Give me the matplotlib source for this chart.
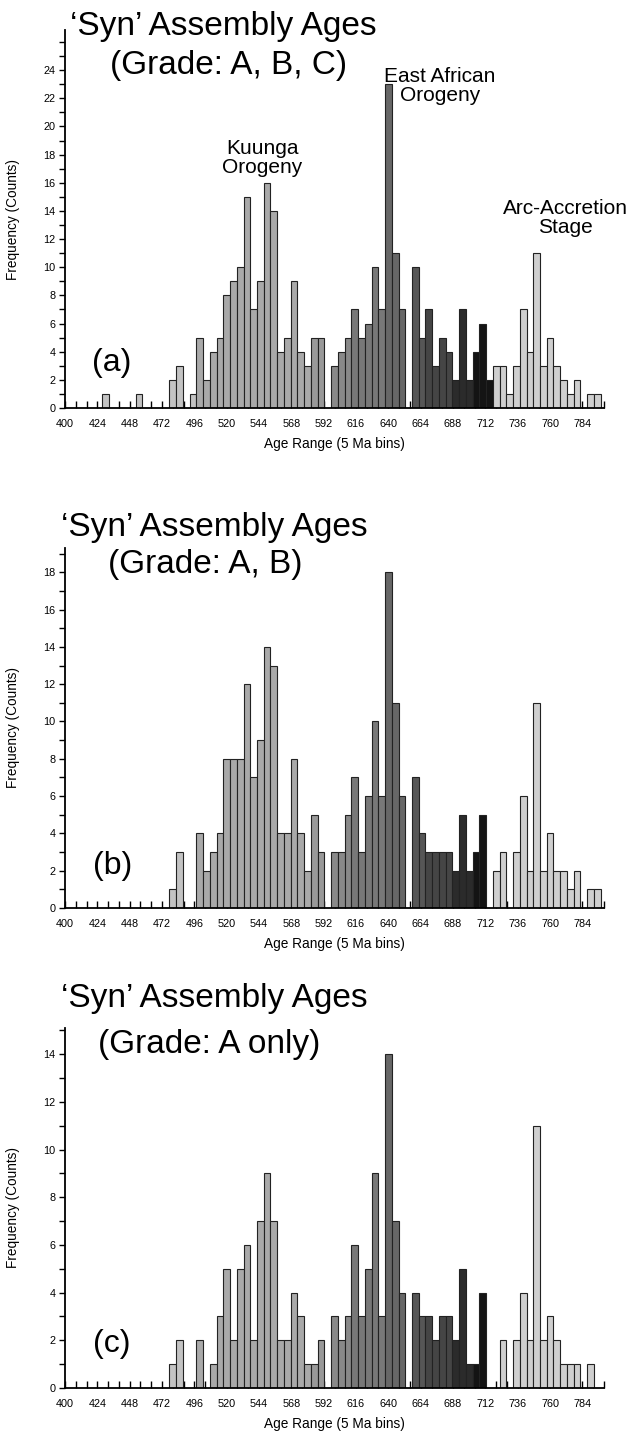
import matplotlib
matplotlib.use("Agg")
import matplotlib.pyplot as plt

plt.rcParams["font.family"] = ["Liberation Sans", "DejaVu Sans"]

W, H = 633, 1441  # output size in px (dpi 100)

# 5 Ma bin centres (Ma) and counts per panel
bin_centers = list(range(430, 800, 5))

counts_abc = [1, 0, 0, 0, 0, 1, 0, 0, 0, 0,
              2, 3, 0, 1, 5, 2, 4, 5, 8, 9,
              10, 15, 7, 9, 16, 14, 4, 5, 9, 4,
              3, 5, 5, 0, 3, 4, 5, 7, 5, 6,
              10, 7, 23, 11, 7, 0, 10, 5, 7, 3,
              5, 4, 2, 7, 2, 4, 6, 2, 3, 3,
              1, 3, 7, 4, 11, 3, 5, 3, 2, 1,
              2, 0, 1, 1]
counts_ab = [0, 0, 0, 0, 0, 0, 0, 0, 0, 0,
             1, 3, 0, 0, 4, 2, 3, 4, 8, 8,
             8, 12, 7, 9, 14, 13, 4, 4, 8, 4,
             2, 5, 3, 0, 3, 3, 5, 7, 3, 6,
             10, 6, 18, 11, 6, 0, 7, 4, 3, 3,
             3, 3, 2, 5, 2, 3, 5, 0, 2, 3,
             0, 3, 6, 2, 11, 2, 4, 2, 2, 1,
             2, 0, 1, 1]
counts_a = [0, 0, 0, 0, 0, 0, 0, 0, 0, 0,
            1, 2, 0, 0, 2, 0, 1, 3, 5, 2,
            5, 6, 2, 7, 9, 7, 2, 2, 4, 3,
            1, 1, 2, 0, 3, 2, 3, 6, 3, 5,
            9, 3, 14, 7, 4, 0, 4, 3, 3, 2,
            3, 3, 2, 5, 1, 1, 4, 0, 0, 2,
            0, 2, 4, 2, 11, 2, 3, 2, 1, 1,
            1, 0, 1, 0]

panels = [
    dict(counts=counts_abc, grade="(Grade: A, B, C)", tag="(a)", ymax=26.85, ylab=24,
         y0=408, ytop=30, t1=(70, 35), t2=(110, 74), tag_xy=(92, 371)),
    dict(counts=counts_ab, grade="(Grade: A, B)", tag="(b)", ymax=19.3, ylab=18,
         y0=908, ytop=548, t1=(61, 536), t2=(108, 573), tag_xy=(93, 874)),
    dict(counts=counts_a, grade="(Grade: A only)", tag="(c)", ymax=15.1, ylab=14,
         y0=1388, ytop=1028, t1=(61, 1007), t2=(98, 1053), tag_xy=(93, 1352)),
]


def shade(c):
    # grey level by age window, as in the original figure
    if c < 500: return "#c3c3c3"
    if c < 585: return "#a9a9a9"
    if c < 600: return "#999999"
    if c < 615: return "#898989"
    if c < 640: return "#787878"
    if c < 660: return "#676767"
    if c < 670: return "#565656"
    if c < 690: return "#454545"
    if c < 705: return "#2b2b2b"
    if c < 720: return "#141414"
    return "#cfcfcf"


def fx(x): return x / W
def fy(y): return 1 - y / H


fig = plt.figure(figsize=(W / 100, H / 100), dpi=100)
x_l, x_r = 65, 604

for p in panels:
    ax = fig.add_axes([fx(x_l), fy(p["y0"]), (x_r - x_l) / W, (p["y0"] - p["ytop"]) / H])
    xs = [c for c, n in zip(bin_centers, p["counts"]) if n > 0]
    ns = [n for n in p["counts"] if n > 0]
    ax.bar(xs, ns, width=5, color=[shade(c) for c in xs],
           edgecolor="#222222", linewidth=0.8, zorder=2)
    ax.set_xlim(400, 800)
    ax.set_ylim(0, p["ymax"])
    for s in ("top", "right"):
        ax.spines[s].set_visible(False)
    for s in ("left", "bottom"):
        ax.spines[s].set_linewidth(1.3)
    ax.set_xticks(range(400, 785, 24))
    ax.set_xticks(range(400, 801, 8), minor=True)
    ax.set_yticks(range(0, p["ylab"] + 1, 2))
    ax.set_yticks(range(0, int(p["ymax"]) + 1), minor=True)
    ax.tick_params(axis="x", which="both", direction="in", length=5, width=1,
                   labelsize=7.8, pad=8)
    ax.tick_params(axis="y", which="both", direction="out", length=4, width=1,
                   labelsize=7.8, pad=3)
    ax.set_xlabel("Age Range (5 Ma bins)", fontsize=9.8, labelpad=6)
    ax.set_ylabel("Frequency (Counts)", fontsize=9.8)
    ax.yaxis.set_label_coords(-0.083, 0.5)

    fig.text(fx(p["t1"][0]), fy(p["t1"][1]), "\u2018Syn\u2019 Assembly Ages",
             fontsize=24, ha="left", va="baseline")
    fig.text(fx(p["t2"][0]), fy(p["t2"][1]), p["grade"],
             fontsize=24, ha="left", va="baseline")
    fig.text(fx(p["tag_xy"][0]), fy(p["tag_xy"][1]), p["tag"],
             fontsize=23, ha="left", va="baseline")

# event labels on panel (a)
fig.text(fx(262), fy(158), "Kuunga\nOrogeny", fontsize=15, ha="center",
         va="center", linespacing=1.05)
fig.text(fx(440), fy(86), "East African\nOrogeny", fontsize=15, ha="center",
         va="center", linespacing=1.05)
fig.text(fx(565), fy(218), "Arc-Accretion\nStage", fontsize=15, ha="center",
         va="center", linespacing=1.05)

fig.savefig("out.png", dpi=100)
